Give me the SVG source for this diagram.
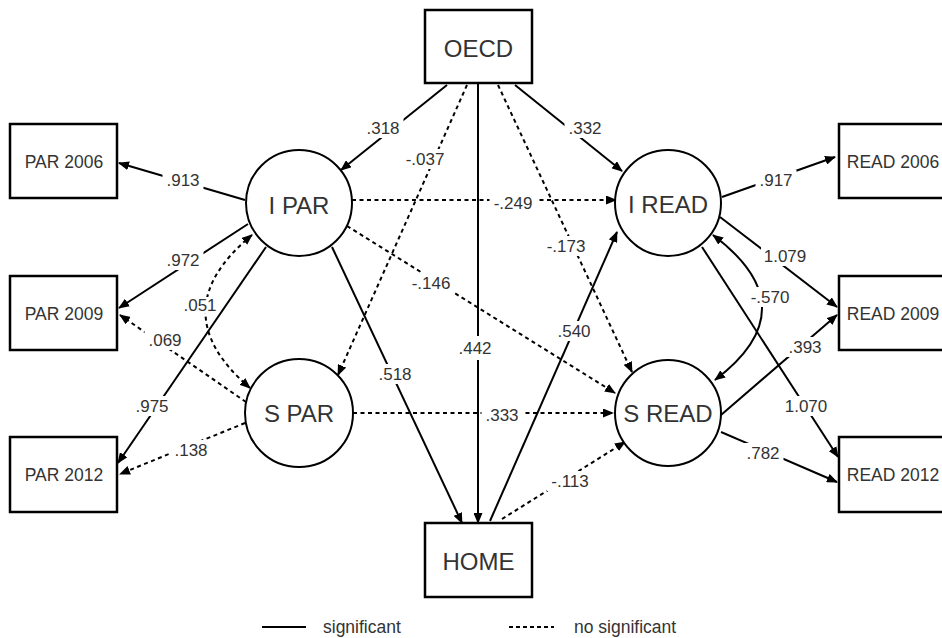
<svg xmlns="http://www.w3.org/2000/svg" width="942" height="638" viewBox="0 0 942 638">
<style>
.box{fill:#fff;stroke:#000;stroke-width:2.5}
.circ{fill:#fff;stroke:#000;stroke-width:2}
.nt{font-family:"Liberation Sans",Arial,sans-serif;fill:#333;text-anchor:middle}
.bt{font-size:17.5px}
.big{font-size:24px}
.s{fill:none;stroke:#000;stroke-width:2}
.d{fill:none;stroke:#000;stroke-width:2;stroke-dasharray:4,3.5}
.lb{fill:#fff;stroke:none}
.lt{font-family:"Liberation Sans",Arial,sans-serif;font-size:17px;fill:#333;text-anchor:middle}
.lg{font-family:"Liberation Sans",Arial,sans-serif;font-size:17.5px;fill:#333}
</style>
<defs>
<marker id="ah" markerUnits="userSpaceOnUse" markerWidth="11" markerHeight="9" refX="10" refY="4.5" orient="auto-start-reverse" viewBox="0 0 11 9">
<path d="M0,0 L11,4.5 L0,9 z" fill="#000"/>
</marker>
</defs>
<rect width="942" height="638" fill="#fff"/>
<g id="connectors">
<path class="s" d="M245,200 L119,163" marker-end="url(#ah)"/>
<path class="s" d="M248,224 L119,308" marker-end="url(#ah)"/>
<path class="s" d="M266,247 L118,463" marker-end="url(#ah)"/>
<path class="d" d="M252,235 Q160,311 250,388" marker-start="url(#ah)" marker-end="url(#ah)"/>
<path class="d" d="M246,402 L120,315" marker-end="url(#ah)"/>
<path class="d" d="M245,423 L120,474" marker-end="url(#ah)"/>
<path class="s" d="M447,85 L341,170" marker-end="url(#ah)"/>
<path class="d" d="M467,85 L338,375" marker-end="url(#ah)"/>
<path class="s" d="M478,83 L478,523" marker-end="url(#ah)"/>
<path class="d" d="M498,85 L632,372" marker-end="url(#ah)"/>
<path class="s" d="M515,85 L622,171" marker-end="url(#ah)"/>
<path class="d" d="M352,200 L616,200" marker-end="url(#ah)"/>
<path class="d" d="M347,226 L615,393" marker-end="url(#ah)"/>
<path class="s" d="M332,247 L462,523" marker-end="url(#ah)"/>
<path class="d" d="M353,413 L613,413" marker-end="url(#ah)"/>
<path class="s" d="M490,521 L617,232" marker-end="url(#ah)"/>
<path class="d" d="M502,519 L625,442" marker-end="url(#ah)"/>
<path class="s" d="M722,197 L835,157" marker-end="url(#ah)"/>
<path class="s" d="M720,217 L837,307" marker-end="url(#ah)"/>
<path class="s" d="M702,247 L838,457" marker-end="url(#ah)"/>
<path class="s" d="M721,415 L837,315" marker-end="url(#ah)"/>
<path class="s" d="M721,432 L837,482" marker-end="url(#ah)"/>
<path class="s" d="M713,235 Q810,308 715,380" marker-start="url(#ah)" marker-end="url(#ah)"/>
<g id="labels">
<rect class="lb" x="162.5" y="170" width="41" height="20"/><text class="lt" x="183" y="186">.913</text>
<rect class="lb" x="162.5" y="250" width="41" height="20"/><text class="lt" x="183" y="266">.972</text>
<rect class="lb" x="131.5" y="396" width="41" height="20"/><text class="lt" x="152" y="412">.975</text>
<rect class="lb" x="181.5" y="297" width="37" height="16"/><text class="lt" x="200" y="311">.051</text>
<rect class="lb" x="144.5" y="330" width="41" height="20"/><text class="lt" x="165" y="346">.069</text>
<rect class="lb" x="170.5" y="440" width="41" height="20"/><text class="lt" x="191" y="456">.138</text>
<rect class="lb" x="362.5" y="118" width="41" height="20"/><text class="lt" x="383" y="134">.318</text>
<rect class="lb" x="401.5" y="149" width="47" height="20"/><text class="lt" x="425" y="165">-.037</text>
<rect class="lb" x="454.5" y="336" width="41" height="24"/><text class="lt" x="475" y="354">.442</text>
<rect class="lb" x="564.5" y="118" width="41" height="20"/><text class="lt" x="585" y="134">.332</text>
<rect class="lb" x="542.5" y="236" width="47" height="20"/><text class="lt" x="566" y="252">-.173</text>
<rect class="lb" x="489.5" y="193" width="47" height="20"/><text class="lt" x="513" y="209">-.249</text>
<rect class="lb" x="407.5" y="273" width="47" height="20"/><text class="lt" x="431" y="289">-.146</text>
<rect class="lb" x="374.5" y="364" width="41" height="20"/><text class="lt" x="395" y="380">.518</text>
<rect class="lb" x="481.5" y="405" width="41" height="20"/><text class="lt" x="502" y="421">.333</text>
<rect class="lb" x="553.5" y="321" width="41" height="20"/><text class="lt" x="574" y="337">.540</text>
<rect class="lb" x="546.5" y="471" width="47" height="20"/><text class="lt" x="570" y="487">-.113</text>
<rect class="lb" x="755.5" y="170" width="41" height="20"/><text class="lt" x="776" y="186">.917</text>
<rect class="lb" x="761" y="246" width="48" height="20"/><text class="lt" x="785" y="262">1.079</text>
<rect class="lb" x="782" y="396" width="48" height="20"/><text class="lt" x="806" y="412">1.070</text>
<rect class="lb" x="784.5" y="337" width="41" height="20"/><text class="lt" x="805" y="353">.393</text>
<rect class="lb" x="742.5" y="443" width="41" height="20"/><text class="lt" x="763" y="459">.782</text>
<rect class="lb" x="746.5" y="287" width="47" height="20"/><text class="lt" x="770" y="303">-.570</text>
</g>
</g>
<g id="OECD"><rect class="box" x="425" y="10" width="107" height="73"/><text class="nt big" x="478.5" y="57">OECD</text></g>
<g id="HOME"><rect class="box" x="425" y="523" width="107" height="74"/><text class="nt big" x="478.5" y="570">HOME</text></g>
<g id="PAR2006"><rect class="box" x="10" y="124" width="107" height="74"/><text class="nt bt" x="64" y="167.5">PAR 2006</text></g>
<g id="PAR2009"><rect class="box" x="10" y="276" width="107" height="74"/><text class="nt bt" x="64" y="319.5">PAR 2009</text></g>
<g id="PAR2012"><rect class="box" x="10" y="437" width="107" height="75"/><text class="nt bt" x="64" y="481">PAR 2012</text></g>
<g id="READ2006"><rect class="box" x="839" y="124" width="107" height="74"/><text class="nt bt" x="893" y="167.5">READ 2006</text></g>
<g id="READ2009"><rect class="box" x="839" y="276" width="107" height="74"/><text class="nt bt" x="893" y="319.5">READ 2009</text></g>
<g id="READ2012"><rect class="box" x="839" y="437" width="107" height="75"/><text class="nt bt" x="893" y="481">READ 2012</text></g>
<g id="IPAR"><circle class="circ" cx="299" cy="203" r="53"/><text class="nt big" x="299" y="213.5">I PAR</text></g>
<g id="SPAR"><circle class="circ" cx="299" cy="413" r="54"/><text class="nt big" x="299" y="422">S PAR</text></g>
<g id="IREAD"><circle class="circ" cx="668" cy="203" r="53"/><text class="nt big" x="668" y="213">I READ</text></g>
<g id="SREAD"><circle class="circ" cx="668" cy="413" r="53"/><text class="nt big" x="668" y="422">S READ</text></g>
<g id="legend">
<path class="s" d="M262,627 L306,627"/>
<text class="lg" x="323" y="633">significant</text>
<path class="d" d="M509,627 L554,627" style="stroke-dasharray:4,3"/>
<text class="lg" x="574" y="633">no significant</text>
</g>
</svg>
